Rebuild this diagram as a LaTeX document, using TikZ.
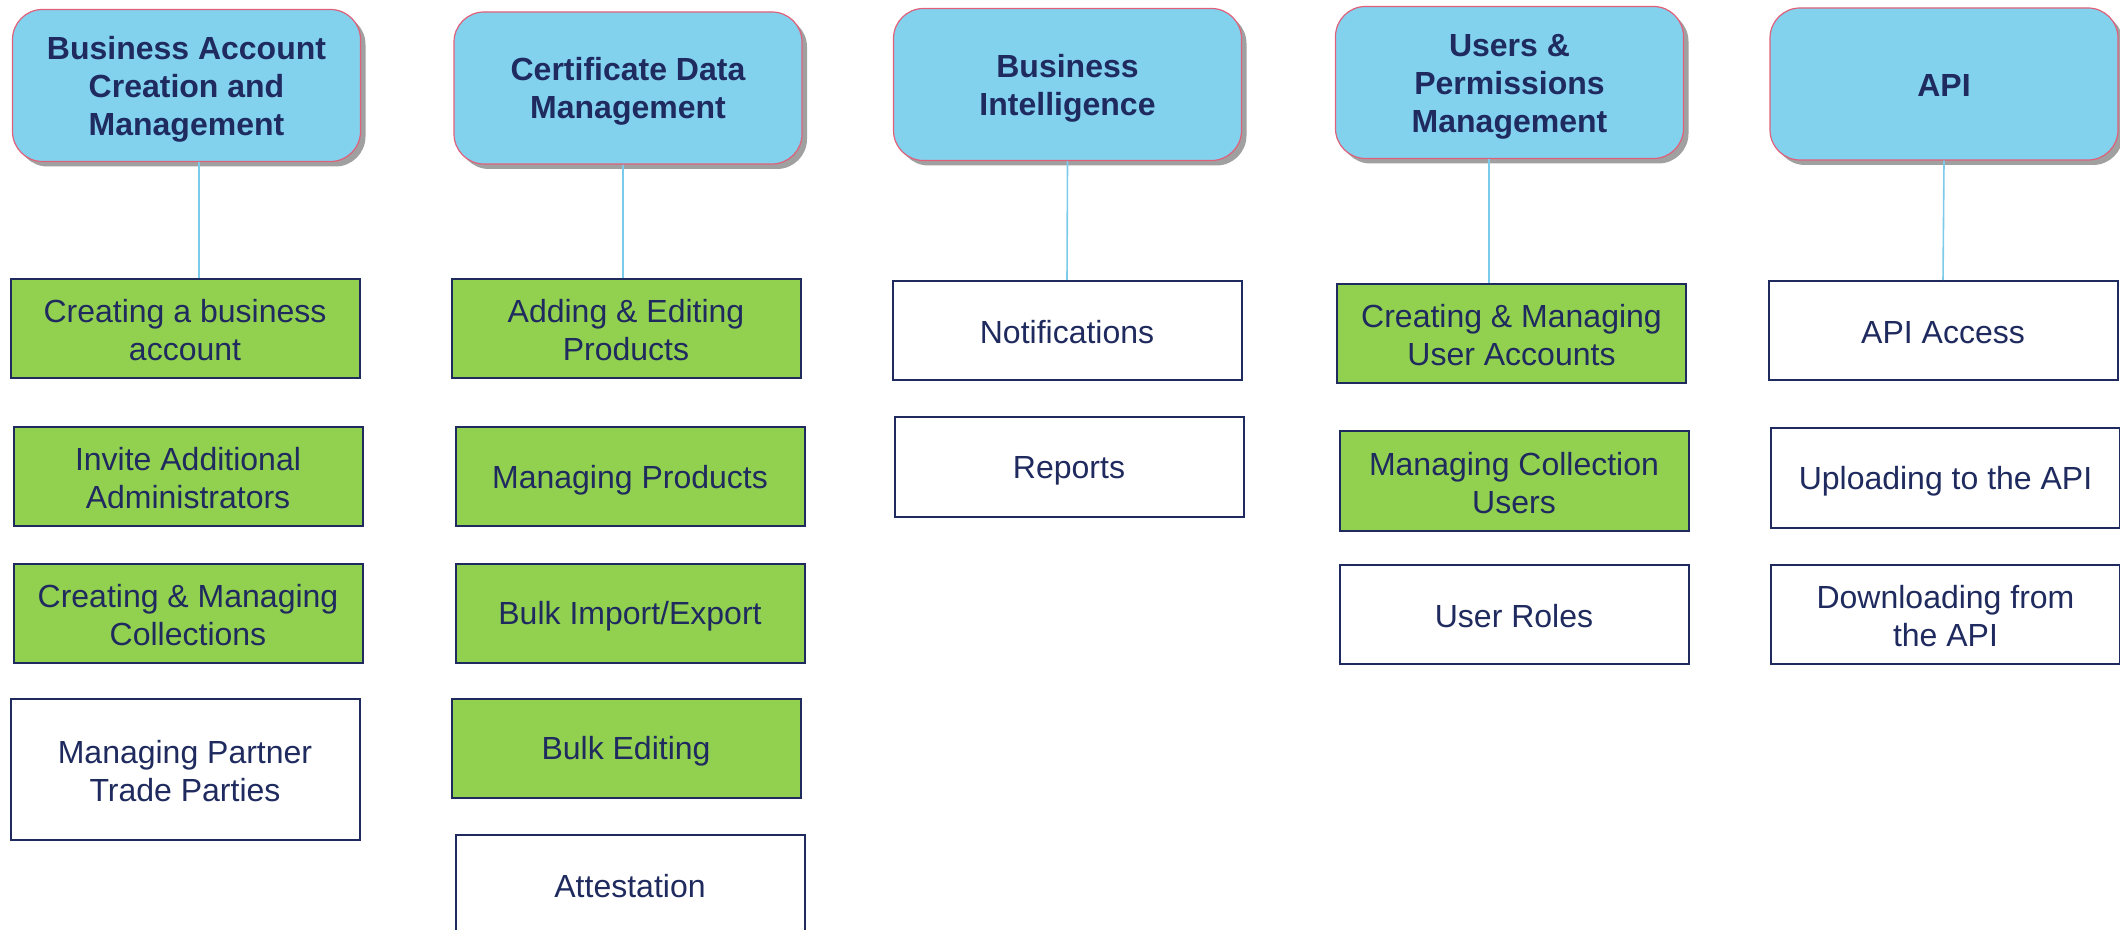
\documentclass[tikz,border=0pt]{standalone}
\usepackage{fontspec}
\setmainfont{Liberation Sans}
\usepackage{tikz}
\usetikzlibrary{shapes,shadows}

\definecolor{hdrblue}{HTML}{82D2EE}
\definecolor{hdrred}{HTML}{E0607A}
\definecolor{navy}{HTML}{1F2A5E}
\definecolor{leafgreen}{HTML}{92D050}
\definecolor{linkblue}{HTML}{7CCBEA}
\definecolor{shadowgray}{HTML}{A0A0A0}
\newcommand\linestrut{\rule[-2pt]{0pt}{17pt}}
\newcommand\brk{\linestrut\\}

\begin{document}
\begin{tikzpicture}[x=0.5pt,y=-0.5pt,
	boxtext/.style={text=navy, align=center, execute at end node=\linestrut},
	head/.style={boxtext, rectangle, rounded corners=15pt, draw=hdrred, line width=0.6pt, fill=hdrblue, font=\fontsize{16}{19}\selectfont\bfseries, minimum width=174pt, minimum height=76pt, drop shadow={shadow xshift=2.5pt, shadow yshift=-2.5pt, fill=shadowgray, opacity=1}},
	leaf/.style={boxtext, rectangle, draw=navy, line width=1pt, fill=white, font=\fontsize{16}{19}\selectfont, minimum width=174.5pt, minimum height=49.5pt},
	greenbox/.style={leaf, fill=leafgreen},
	link/.style={draw=linkblue, line width=0.8pt}]
\useasboundingbox (0,0) rectangle (2120,930);

\node[head] (acct) at (186.5,85.5) {Business Account\brk Creation and\brk Management};
\node[greenbox] (acct1) at (185,329) {Creating a business\brk account};
\node[greenbox] (acct2) at (188,476.5) {Invite Additional\brk Administrators};
\node[greenbox] (acct3) at (188,613) {Creating \& Managing\brk Collections};
\node[leaf, minimum height=70.5pt] (acct4) at (185,769) {Managing Partner\brk Trade Parties};

\node[head] (cert) at (628,88) {Certificate Data\brk Management};
\node[greenbox] (cert1) at (626,329) {Adding \& Editing\brk Products};
\node[greenbox] (cert2) at (630,476.5) {Managing Products};
\node[greenbox] (cert3) at (630,613) {Bulk Import/Export};
\node[greenbox] (cert4) at (626,748) {Bulk Editing};
\node[leaf] (cert5) at (630,884) {Attestation};

\node[head] (bi) at (1067.5,84.5) {Business\brk Intelligence};
\node[leaf] (bi1) at (1067,330.5) {Notifications};
\node[leaf] (bi2) at (1069,467) {Reports};

\node[head] (users) at (1509.5,82.5) {Users \&\brk Permissions\brk Management};
\node[greenbox] (users1) at (1511.5,334) {Creating \& Managing\brk User Accounts};
\node[greenbox] (users2) at (1514,481) {Managing Collection\brk Users};
\node[leaf] (users3) at (1514,614.5) {User Roles};

\node[head] (api) at (1944,84) {API};
\node[leaf] (api1) at (1943,330.5) {API Access};
\node[leaf] (api2) at (1945.5,478) {Uploading to the API};
\node[leaf] (api3) at (1945.5,614) {Downloading from\brk the API};

\draw[link] ([xshift=6.25pt]acct.south) -- ([xshift=7pt]acct1.north);
\draw[link] ([xshift=-2.5pt]cert.south) -- ([xshift=-1.5pt]cert1.north);
\draw[link] (bi.south) -- (bi1.north);
\draw[link] ([xshift=-10.25pt]users.south) -- ([xshift=-11.25pt]users1.north);
\draw[link] (api.south) -- (api1.north);
\end{tikzpicture}
\end{document}
